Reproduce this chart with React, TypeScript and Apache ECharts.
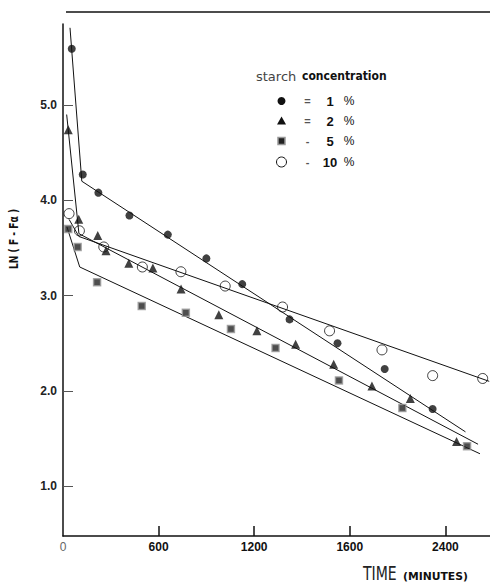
import React, { useEffect, useRef } from "react";
import * as echarts from "echarts";

// ---- data (time in minutes, ln(F - Fα)) ----
const conc1: [number, number][] = [
  [55, 5.59], [124, 4.27], [222, 4.08], [417, 3.84], [658, 3.64], [900, 3.39],
  [1125, 3.12], [1422, 2.75], [1723, 2.5], [2019, 2.23], [2320, 1.81],
];
const conc2: [number, number][] = [
  [33, 4.74], [99, 3.8], [218, 3.63], [270, 3.47], [413, 3.34], [564, 3.29],
  [741, 3.07], [978, 2.8], [1217, 2.63], [1460, 2.49], [1699, 2.28],
  [1939, 2.05], [2180, 1.92], [2470, 1.47],
];
const conc5: [number, number][] = [
  [33, 3.7], [92, 3.51], [214, 3.14], [494, 2.89], [771, 2.82], [1054, 2.65],
  [1334, 2.45], [1732, 2.11], [2130, 1.82], [2536, 1.42],
];
const conc10: [number, number][] = [
  [38, 3.86], [103, 3.68], [256, 3.51], [498, 3.3], [740, 3.25], [1018, 3.1],
  [1378, 2.88], [1673, 2.63], [2002, 2.43], [2320, 2.16], [2634, 2.13],
];
// fitted two-segment lines
const fit1: [number, number][] = [[44, 5.81], [118, 4.2], [2526, 1.57]];
const fit2: [number, number][] = [[23, 4.9], [100, 3.65], [2605, 1.44]];
const fit5: [number, number][] = [[25, 3.72], [105, 3.3], [2617, 1.34]];
const fit10: [number, number][] = [[38, 3.8], [100, 3.62], [2675, 2.1]];

const xTickValues = [0, 600, 1200, 1800, 2400];
const xTickLabels = ["0", "600", "1200", "1600", "2400"];
const yTickValues = [1, 2, 3, 4, 5];
const legendLabels = ["1", "2", "5", "10"];
const legendSigns = ["=", "=", "-", "-"];

export default function App() {
  const ref = useRef<HTMLDivElement>(null);
  useEffect(() => {
    if (!ref.current) return;
    const chart = echarts.init(ref.current, null, { renderer: "svg" });
    const lineSeries = (d: [number, number][]) => ({
      type: "line",
      data: d,
      symbol: "none",
      lineStyle: { color: "#111", width: 1 },
      z: 1,
      silent: true,
    });
    const numFont = "Liberation Sans, Arial, sans-serif";
    const legendRowY = [101, 121, 141, 162];
    const legendSym = (i: number, y: number) => {
      const cx = 281.5;
      if (i === 0) return { type: "circle", shape: { cx, cy: y, r: 4 }, style: { fill: "#111" } };
      if (i === 1)
        return {
          type: "polygon",
          shape: { points: [[cx, y - 4.5], [cx - 4.5, y + 3.5], [cx + 4.5, y + 3.5]] },
          style: { fill: "#111" },
        };
      if (i === 2)
        return {
          type: "rect",
          shape: { x: cx - 3.5, y: y - 3.5, width: 7, height: 7 },
          style: { fill: "#222", stroke: "#999", lineWidth: 1.5 },
        };
      return { type: "circle", shape: { cx, cy: y, r: 5 }, style: { fill: "#fff", stroke: "#111", lineWidth: 1 } };
    };
    const legendGraphics: any[] = [];
    legendRowY.forEach((y, i) => {
      legendGraphics.push(legendSym(i, y));
      legendGraphics.push({
        type: "text", x: 307.5, y, style: { text: legendSigns[i], font: `bold 11px ${numFont}`, fill: "#555", align: "center", verticalAlign: "middle" },
      });
      legendGraphics.push({
        type: "text", x: 330, y, style: { text: legendLabels[i], font: `bold 13px ${numFont}`, fill: "#111", align: "center", verticalAlign: "middle" },
      });
      legendGraphics.push({
        type: "text", x: 349, y, style: { text: "%", font: `12px ${numFont}`, fill: "#111", align: "center", verticalAlign: "middle" },
      });
    });

    chart.setOption({
      animation: false,
      backgroundColor: "#fff",
      grid: { left: 63, right: 0, top: 24, bottom: 48, containLabel: false },
      xAxis: {
        type: "value",
        min: 0,
        max: 2680,
        splitLine: { show: false },
        axisLine: { show: true, onZero: false, lineStyle: { color: "#111", width: 1.5 } },
        axisTick: { show: true, inside: true, length: 10, customValues: xTickValues.slice(1), lineStyle: { color: "#111", width: 1.5 } },
        axisLabel: {
          customValues: xTickValues,
          margin: 5,
          formatter: (v: number) => {
            const i = xTickValues.indexOf(v);
            const t = i >= 0 ? xTickLabels[i] : "";
            return i === 0 ? `{z|${t}}` : t;
          },
          fontFamily: numFont,
          fontWeight: "bold",
          fontSize: 12,
          color: "#111",
          rich: { z: { fontFamily: numFont, fontSize: 12, color: "#666", fontWeight: "normal" } },
        },
      },
      yAxis: {
        type: "value",
        min: 0.477,
        max: 5.85,
        splitLine: { show: false },
        axisLine: { show: true, onZero: false, lineStyle: { color: "#111", width: 1.5 } },
        axisTick: { show: true, inside: true, length: 10, customValues: yTickValues, lineStyle: { color: "#555", width: 1 } },
        axisLabel: {
          customValues: yTickValues,
          margin: 6,
          formatter: (v: number) => v.toFixed(1),
          fontFamily: numFont,
          fontWeight: "bold",
          fontSize: 12,
          color: "#222",
        },
      },
      series: [
        lineSeries(fit1),
        lineSeries(fit2),
        lineSeries(fit5),
        lineSeries(fit10),
        { type: "scatter", name: "1 %", data: conc1, symbol: "circle", symbolSize: 8, itemStyle: { color: "#111" }, z: 3 },
        { type: "scatter", name: "2 %", data: conc2, symbol: "triangle", symbolSize: 9, itemStyle: { color: "#111" }, z: 3 },
        {
          type: "scatter", name: "5 %", data: conc5, symbol: "rect", symbolSize: 7,
          itemStyle: { color: "#222", borderColor: "#999", borderWidth: 1.5 }, z: 3,
        },
        {
          type: "scatter", name: "10 %", data: conc10, symbol: "circle", symbolSize: 10,
          itemStyle: { color: "rgba(255,255,255,0)", borderColor: "#111", borderWidth: 1 }, z: 2,
        },
      ],
      graphic: [
        { type: "line", shape: { x1: 66, y1: 12, x2: 490, y2: 12 }, style: { stroke: "#111", lineWidth: 1.5 } },
        {
          type: "text", x: 256, y: 76,
          style: { text: "starch", font: `13px "DejaVu Sans", sans-serif`, fill: "#444", verticalAlign: "middle" },
        },
        {
          type: "text", x: 302, y: 76,
          style: { text: "concentration", font: `bold 12px "DejaVu Sans Condensed", "DejaVu Sans", sans-serif`, fill: "#111", verticalAlign: "middle" },
        },
        ...legendGraphics,
        {
          type: "text", x: 14, y: 239, rotation: Math.PI / 2, scaleX: 0.78,
          style: { text: "LN ( F - Fα )", font: `bold 13px "DejaVu Sans Condensed", "DejaVu Sans", sans-serif`, fill: "#111", align: "center", verticalAlign: "middle" },
        },
        {
          type: "text", x: 363, y: 573, scaleX: 0.78,
          style: { text: "TIME", font: `20px "DejaVu Sans Condensed", "DejaVu Sans", sans-serif`, fill: "#222", verticalAlign: "middle" },
        },
        {
          type: "text", x: 403, y: 576, scaleX: 1.08,
          style: { text: "(MINUTES)", font: `bold 10px "DejaVu Sans", sans-serif`, fill: "#111", verticalAlign: "middle" },
        },
      ],
    });
    return () => chart.dispose();
  }, []);
  return <div ref={ref} style={{ position: "fixed", left: 0, top: 0, width: 490, height: 584 }} />;
}
